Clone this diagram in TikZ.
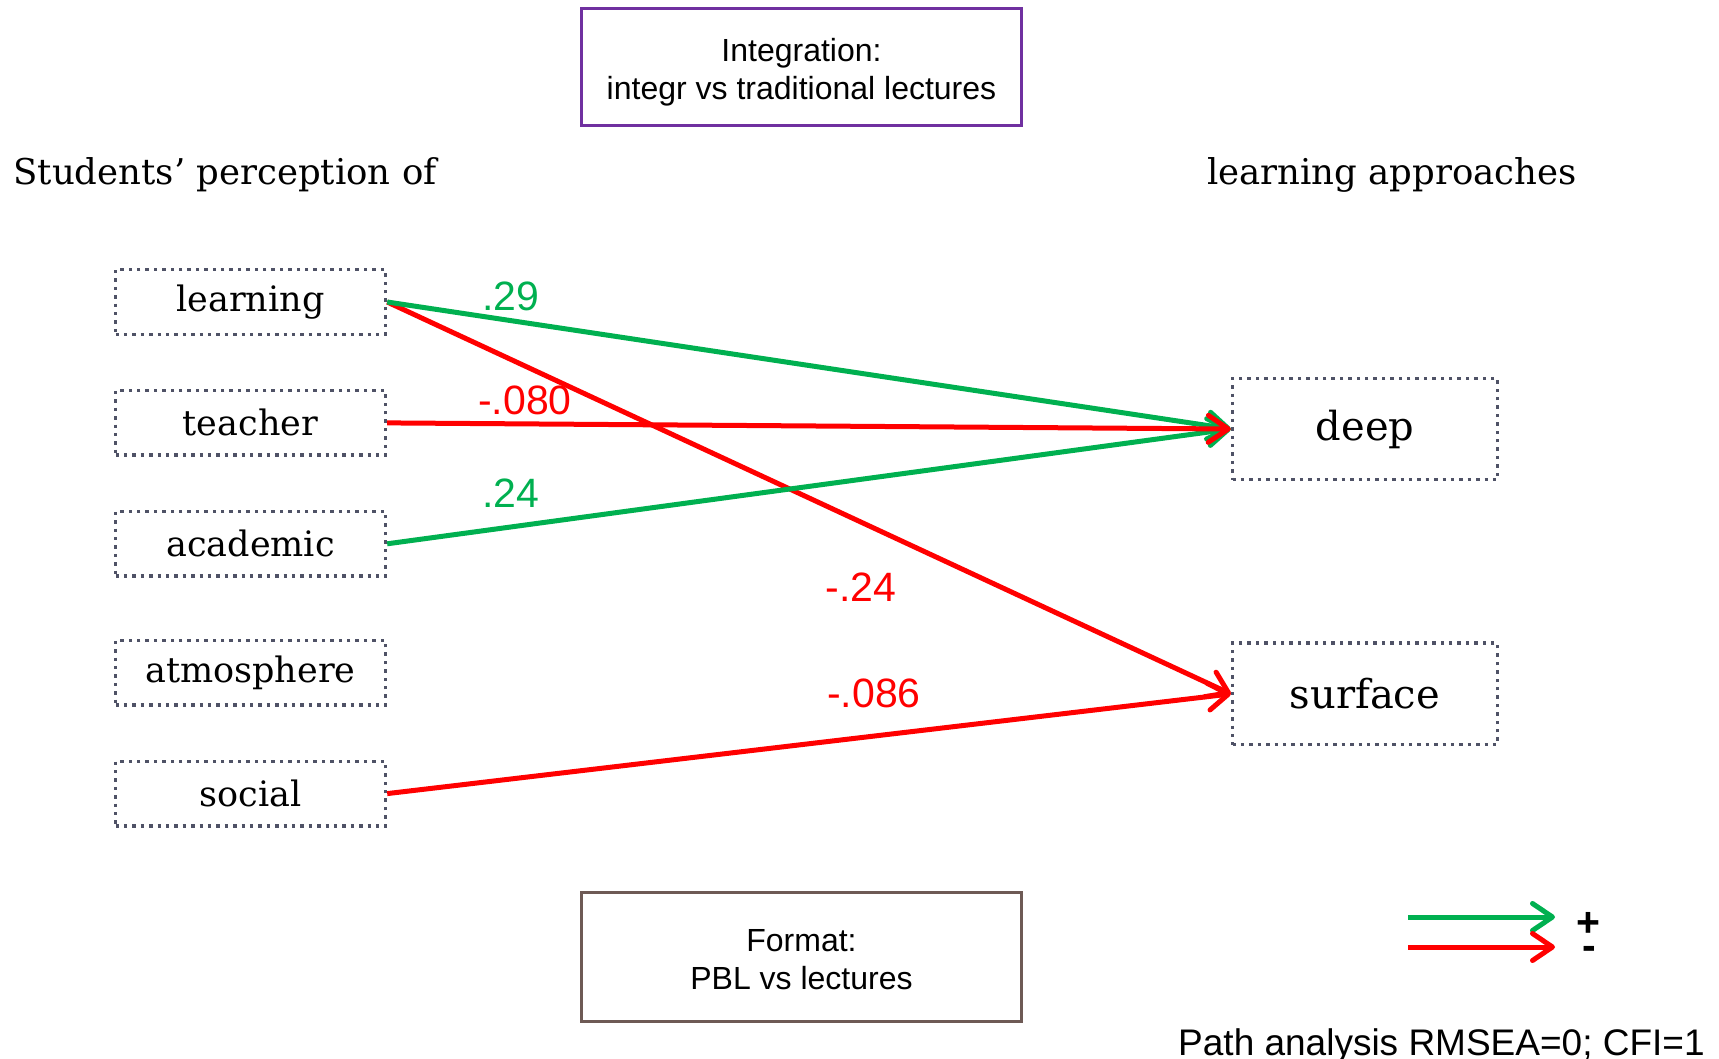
\documentclass[tikz,border=0pt]{standalone}
\usepackage{fontspec}
\setmainfont{DejaVu Serif}
\newfontfamily\arialfont{Liberation Sans}
\usepackage{tikz}
\usetikzlibrary{arrows.meta, positioning}
\definecolor{pathgreen}{HTML}{00B050}
\definecolor{pathred}{HTML}{FF0000}
\definecolor{integrpurple}{HTML}{7030A0}
\definecolor{formatbrown}{HTML}{6E5A55}
\definecolor{dotslate}{HTML}{4F5266}

\begin{document}
\begin{tikzpicture}[x=1pt, y=-1pt,
    percept/.style={rectangle, minimum width=270pt, minimum height=64.5pt, inner sep=0pt,
      draw=dotslate, line width=3.4pt, dash pattern=on 3.4pt off 5pt, font=\fontsize{35}{42}\selectfont},
    approach/.style={percept, minimum width=265pt, minimum height=101.5pt, font=\fontsize{40}{48}\selectfont},
    design/.style={rectangle, minimum width=440pt, line width=3pt, align=center,
      font=\arialfont\fontsize{32}{38}\selectfont},
    coef/.style={font=\arialfont\fontsize{41}{48}\selectfont},
    posarrow/.style={-{Straight Barb[length=20pt, width=27pt, line cap=round, line join=round]},
      line width=5pt, pathgreen},
    negarrow/.style={posarrow, pathred}]

    \useasboundingbox (0,0) rectangle (1719,1059);

    % moderators
    \node (integr) [design, draw=integrpurple, minimum height=117pt] at (801.5,67) {\rule{0pt}{34pt}Integration:\\integr vs traditional lectures};
    \node (format) [design, draw=formatbrown, minimum height=129pt] at (801.5,957) {\rule{0pt}{28pt}Format:\\PBL vs lectures};

    \node (students) [anchor=west, font=\fontsize{35.5}{42}\selectfont] at (10,175) {Students’ perception of};
    \node (approaches) [font=\fontsize{35.5}{42}\selectfont] at (1392,175) {learning approaches};

    % perceptions
    \node (learning) [percept] at (250.5,302) {\raisebox{-2pt}{learning}};
    \node (teacher) [percept, below=53pt of learning] {\raisebox{-2pt}{teacher}};
    \node (academic) [percept, below=53pt of teacher] {\raisebox{-2pt}{academic}};
    \node (atmosphere) [percept, below=61pt of academic] {\raisebox{-2pt}{atmosphere}};
    \node (social) [percept, below=53pt of atmosphere] {\raisebox{-2pt}{social}};

    % approaches
    \node (deep) [approach] at (1365,429) {deep};
    \node (surface) [approach, below=160pt of deep] {surface};

    % paths
    \draw [negarrow] (learning.east) -- (surface.west);
    \draw [posarrow] (learning.east) -- (deep.west);
    \draw [posarrow] (academic.east) -- (deep.west);
    \draw [negarrow] (teacher.east) -- (deep.west);
    \draw [negarrow] (social.east) -- (surface.west);

    \node (c29) [coef, text=pathgreen] at (511,296) {.29};
    \node (c080) [coef, text=pathred] at (525,400) {-.080};
    \node (c24) [coef, text=pathgreen] at (511,493) {.24};
    \node (cn24) [coef, text=pathred] at (861,587) {-.24};
    \node (c086) [coef, text=pathred] at (874,693) {-.086};

    % legend
    \coordinate (plusstart) at (1408,917);
    \coordinate (plusend) at (1555,917);
    \coordinate (minusstart) at (1408,947);
    \coordinate (minusend) at (1555,947);
    \draw [posarrow] (plusstart) -- (plusend);
    \draw [negarrow] (minusstart) -- (minusend);
    \node (plus) [anchor=base, font=\arialfont\bfseries\fontsize{41}{48}\selectfont] at (1588,936) {+};
    \node (minus) [anchor=base, font=\arialfont\bfseries\fontsize{41}{48}\selectfont] at (1589,959) {-};

    \node (fit) [anchor=base west, inner sep=0pt, font=\arialfont\fontsize{37}{44}\selectfont] at (1178,1055) {Path analysis RMSEA=0; CFI=1};
\end{tikzpicture}
\end{document}
